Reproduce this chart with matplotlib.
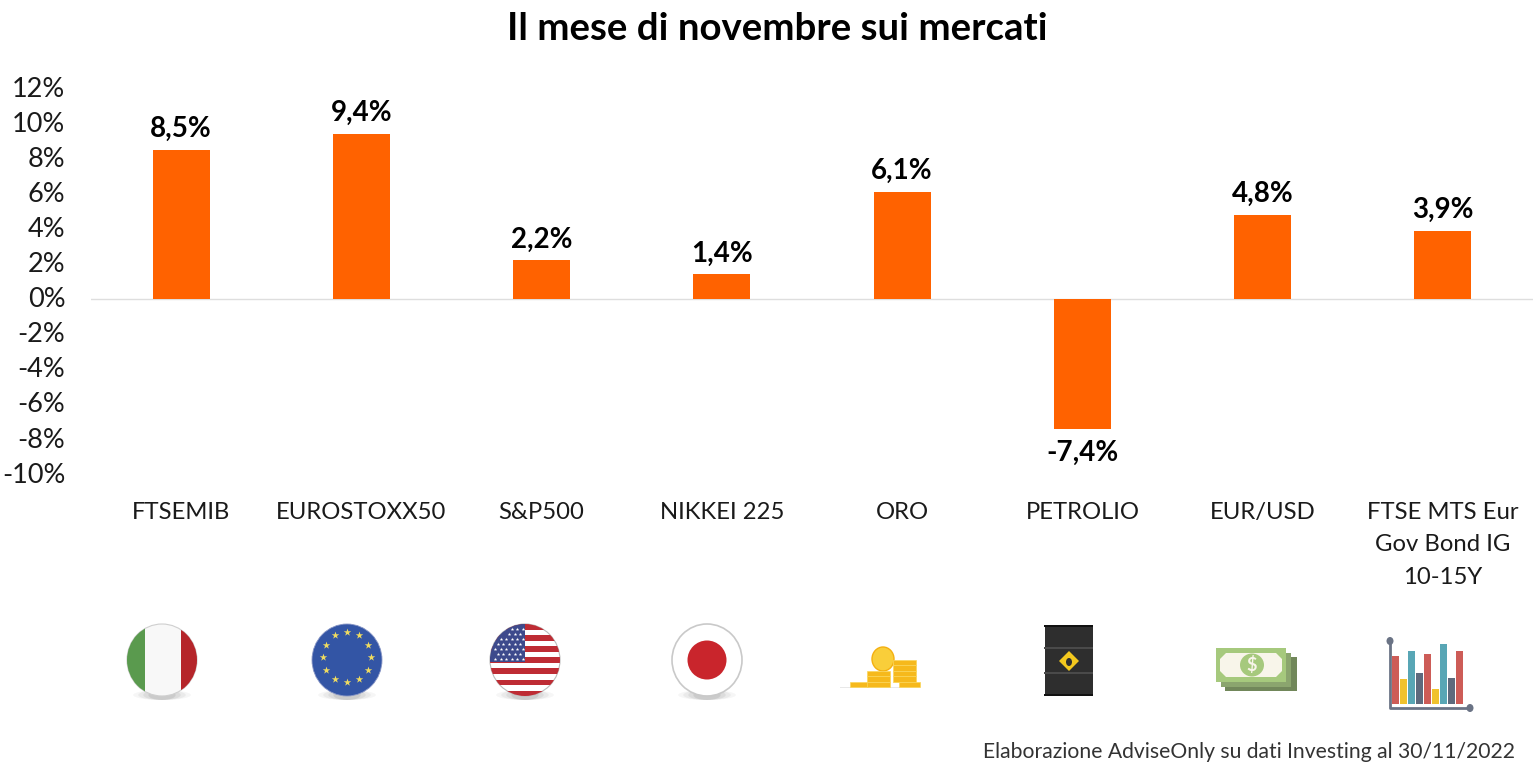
import math
import matplotlib
matplotlib.use("Agg")
import matplotlib.pyplot as plt
from matplotlib.patches import Ellipse, Rectangle, Polygon
from matplotlib.transforms import ScaledTranslation

categories = ["FTSEMIB", "EUROSTOXX50", "S&P500", "NIKKEI 225", "ORO", "PETROLIO",
              "EUR/USD", "FTSE MTS Eur\nGov Bond IG\n10-15Y"]
values = [8.5, 9.4, 2.2, 1.4, 6.1, -7.4, 4.8, 3.9]
value_labels = ["8,5%", "9,4%", "2,2%", "1,4%", "6,1%", "-7,4%", "4,8%", "3,9%"]
yticks = [12, 10, 8, 6, 4, 2, 0, -2, -4, -6, -8, -10]
ytick_labels = ["12%", "10%", "8%", "6%", "4%", "2%", "0%", "-2%", "-4%", "-6%", "-8%", "-10%"]
title = "Il mese di novembre sui mercati"
source = "Elaborazione AdviseOnly su dati Investing al 30/11/2022"

W, H = 1534, 778
FONT = "Lato"
plt.rcParams["font.family"] = [FONT, "DejaVu Sans"]
fig = plt.figure(figsize=(W / 100, H / 100), dpi=100, facecolor="white")

top, bottom = 88.4, 474.5
ax = fig.add_axes([91 / W, 1 - bottom / H, (1533 - 91) / W, (bottom - top) / H])
ax.set_xlim(-0.5, 7.5)
ax.set_ylim(-10, 12)
ax.bar(range(len(values)), values, width=0.316, color="#FF6200", zorder=3)
ax.axhline(0, color="#DEDEDE", lw=1, zorder=1)
for s in ax.spines.values():
    s.set_visible(False)
ax.set_yticks(yticks, ytick_labels, fontsize=19.5, color="#1a1a1a")
ax.set_xticks(range(len(categories)), categories, fontsize=17.2, color="#1a1a1a", linespacing=1.68)
ax.tick_params(axis="y", length=0, pad=18.5)
ax.tick_params(axis="x", length=0, pad=19.5)
ax.patch.set_alpha(0)
shift_up = ScaledTranslation(0, 1.3 / 72, fig.dpi_scale_trans)
for t in ax.get_yticklabels():
    t.set_transform(t.get_transform() + shift_up)
for i, (v, lab) in enumerate(zip(values, value_labels)):
    ax.annotate(lab, (i, v), xytext=(0, 15 if v > 0 else -17.5), textcoords="offset points",
                ha="center", va="center", fontsize=20, fontweight="bold", color="black")

fig.text(777 / W, 1 - 29 / H, title, ha="center", va="center", fontsize=27.6, fontweight="bold", color="black")
fig.text(1515 / W, 1 - 752 / H, source, ha="right", va="center", fontsize=15.2, color="#333333")

# Decorative icons, drawn on a pixel-space overlay
ov = fig.add_axes([0, 0, 1, 1], zorder=5)
ov.set_xlim(0, W)
ov.set_ylim(H, 0)
ov.axis("off")


def shadow(cx, cy=694):
    for k, a in zip((34, 28, 22, 16), (0.05, 0.07, 0.09, 0.12)):
        ov.add_patch(Ellipse((cx, cy + 1), k * 2 * 0.85, 10, color="#555555", alpha=a, lw=0, zorder=1))


def disc(cx, cy=660, w=70, h=72, **kw):
    e = Ellipse((cx, cy), w, h, **kw)
    ov.add_patch(e)
    return e


# Italy
shadow(162)
clip = disc(162, fc="#F8F8F8", ec="#CFCFCF", lw=0.8, zorder=2)
for x0, w, c in ((127, 18, "#5A9A4E"), (181, 20, "#B5252A")):
    r = Rectangle((x0, 620), w, 80, fc=c, lw=0, zorder=3)
    ov.add_patch(r)
    r.set_clip_path(clip)

# EU
shadow(347)
disc(347, fc="#3355A5", ec="#8795C5", lw=0.6, zorder=2)
sx = [347 + 24 * math.cos(math.radians(a)) for a in range(0, 360, 30)]
sy = [657 + 25 * math.sin(math.radians(a)) for a in range(0, 360, 30)]
ov.scatter(sx, sy, marker="*", s=32, color="#F0DC60", lw=0, zorder=3)

# USA
shadow(525)
clip = disc(525, fc="white", ec="#BBBBBB", lw=0.8, zorder=2)
for i in range(13):
    if i % 2 == 0:
        r = Rectangle((488, 624 + i * 5.55), 74, 5.55, fc="#BE2C34", lw=0, zorder=3)
        ov.add_patch(r)
        r.set_clip_path(clip)
r = Rectangle((488, 624), 37, 38, fc="#3D4A8C", lw=0, zorder=4)
ov.add_patch(r)
r.set_clip_path(clip)
sxs, sys_ = [], []
for row in range(7):
    for col in range(6):
        x = 495 + col * 5.6 + (2.8 if row % 2 else 0)
        y = 629 + row * 5
        if x < 525 and ((x - 525) / 34) ** 2 + ((y - 660) / 35) ** 2 < 0.95:
            sxs.append(x)
            sys_.append(y)
ov.scatter(sxs, sys_, marker="*", s=7, color="white", lw=0, zorder=5)

# Japan
shadow(707)
disc(707, fc="white", ec="#C9C9C9", lw=1.2, zorder=2)
disc(707, 660, 39, 39, fc="#C9252C", lw=0, zorder=3)

# Coins
ov.add_patch(Rectangle((840, 686.5), 80, 1, fc="#E8E8E8", lw=0))
gold, gold2 = "#F6B91C", "#F9CE3A"
disc(883, 659, 22, 24, fc=gold2, ec="#F4B010", lw=1, zorder=3)
stacks = [(850, 18, 682, 687), (867, 23, 671, 687), (893, 23, 660, 682), (899, 21, 682, 687)]
for x, w, y0, y1 in stacks:
    y = y0
    while y < y1:
        ov.add_patch(Rectangle((x, y), w, min(5.4, y1 - y), fc=gold, ec="#FBD65A", lw=0.5, zorder=4))
        y += 5.4

# Oil barrel
ov.add_patch(Rectangle((1045, 627), 47.5, 68, fc="#2E2E2E", lw=0, zorder=2))
for y in (625.5, 648, 673, 695):
    ov.add_patch(Rectangle((1044, y - 1), 49, 2.2, fc="#4A4A4A" if 630 < y < 690 else "#111111", lw=0, zorder=3))
ov.add_patch(Polygon([(1069, 651), (1079, 661), (1069, 671), (1059, 661)], fc="#F3C81E", lw=0, zorder=4))
disc(1069, 662, 6, 8, fc="#2E2E2E", lw=0, zorder=5)

# Banknotes
ov.add_patch(Rectangle((1225, 657), 72, 34, fc="#71875A", lw=0, zorder=2))
ov.add_patch(Rectangle((1221, 653), 70, 34, fc="#8BA56E", lw=0, zorder=3))
ov.add_patch(Rectangle((1216, 648), 70, 34, fc="#A6C97D", lw=0, zorder=4))
ov.add_patch(Polygon([(1226, 653), (1276, 653), (1282, 659), (1282, 671), (1276, 677), (1226, 677),
                      (1220, 671), (1220, 659)], fc="#F8F5EA", lw=0, zorder=5))
disc(1252, 665, 24, 23, fc="#A6C97D", lw=0, zorder=6)
ov.text(1252, 665, "$", ha="center", va="center", fontsize=13, fontweight="bold", color="#F8F5EA", zorder=7)

# Small bar chart icon
icon_colors = ["#CD5C57", "#F0C22E", "#58A6B5", "#5E6A7D", "#CD5C57", "#F0C22E", "#58A6B5", "#5E6A7D", "#CD5C57"]
icon_heights = [48, 25, 53, 31, 50, 15, 60, 26, 53]
for i, (c, h) in enumerate(zip(icon_colors, icon_heights)):
    ov.add_patch(Rectangle((1392 + i * 8, 704 - h), 6.5, h, fc=c, lw=0, zorder=3))
ov.plot([1390, 1390, 1470], [641, 708, 708], color="#6A7385", lw=2, zorder=4)
disc(1390, 641, 7, 8, fc="#6A7385", lw=0, zorder=5)
disc(1470, 708, 7, 8, fc="#6A7385", lw=0, zorder=5)

fig.savefig("out.png", dpi=100, facecolor="white")
